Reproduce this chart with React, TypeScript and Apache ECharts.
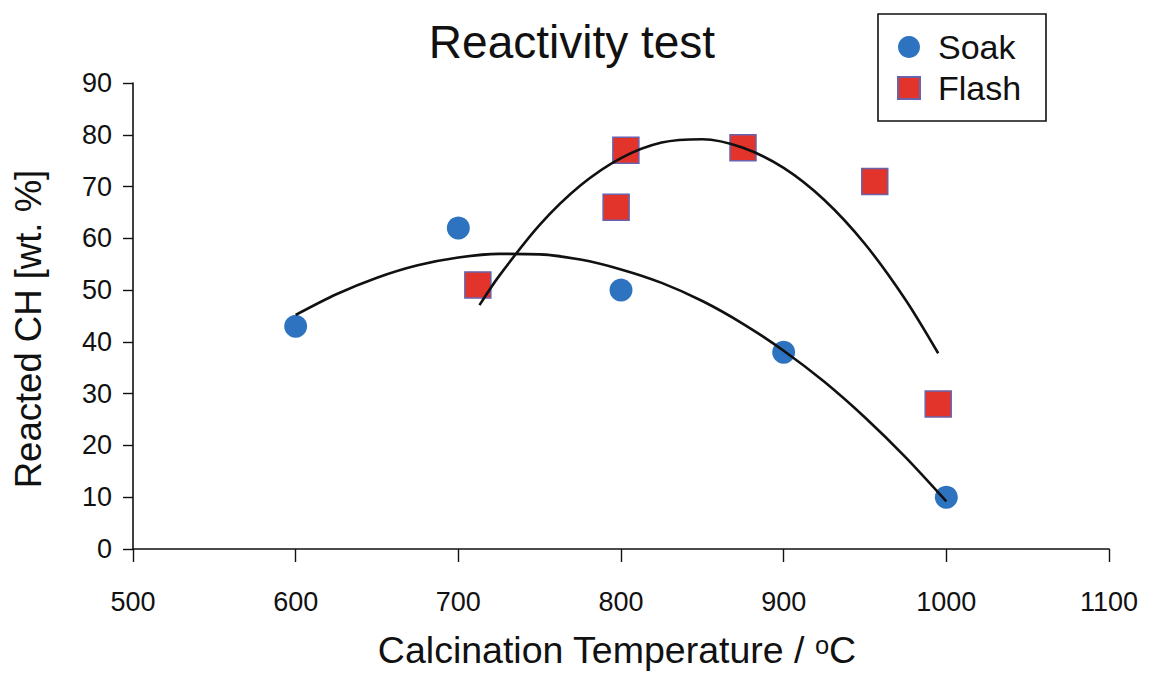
import React, { useEffect, useRef } from "react";
import * as echarts from "echarts";

const soakTemps = [600, 700, 800, 900, 1000];
const soakValues = [43, 62, 50, 38, 10];
const flashTemps = [712, 797, 803, 875, 956, 995];
const flashValues = [51, 66, 77, 77.5, 71, 28];

const soakTrendTemps = [600, 625, 650, 675, 700, 725, 750, 775, 800, 825, 850, 875, 900, 925, 950, 975, 1000];
const soakTrendValues = [45.2, 49.2, 52.4, 54.8, 56.3, 57.0, 56.9, 55.9, 54.0, 51.4, 47.9, 43.5, 38.3, 32.3, 25.4, 17.7, 9.2];
const flashTrendTemps = [713, 725, 750, 775, 800, 825, 850, 875, 900, 925, 950, 975, 995];
const flashTrendValues = [47.1, 52.7, 62.6, 70.2, 75.5, 78.5, 79.15, 77.5, 73.6, 67.4, 58.9, 48.1, 37.8];

const xTicks = [500, 600, 700, 800, 900, 1000, 1100];
const yTicks = [0, 10, 20, 30, 40, 50, 60, 70, 80, 90];

const TITLE = "Reactivity test";
const X_NAME = "Calcination Temperature / \u1d52C";
const Y_NAME = "Reacted CH [wt. %]";
const FONT = "'Liberation Sans', Arial, Helvetica, sans-serif";

const pairs = (xs: number[], ys: number[]) => xs.map((x, i) => [x, ys[i]]);

export default function App() {
  const ref = useRef<HTMLDivElement>(null);
  useEffect(() => {
    if (!ref.current) return;
    const chart = echarts.init(ref.current, null, { renderer: "svg" });
    const axisLine = { show: true, lineStyle: { color: "#111", width: 1.6 } };
    chart.setOption({
      animation: false,
      backgroundColor: "#fff",
      textStyle: { fontFamily: FONT },
      grid: { left: 133, right: 43, top: 83, bottom: 144 },
      xAxis: {
        type: "value",
        min: xTicks[0],
        max: xTicks[xTicks.length - 1],
        interval: 100,
        axisLine,
        axisTick: { show: true, length: 13, lineStyle: { color: "#111", width: 1.4 } },
        splitLine: { show: false },
        axisLabel: {
          fontSize: 27,
          color: "#111",
          margin: 39,
          fontFamily: FONT,
          formatter: (v: number) => String(v),
        },
      },
      yAxis: {
        type: "value",
        min: yTicks[0],
        max: yTicks[yTicks.length - 1],
        interval: 10,
        axisLine,
        axisTick: { show: true, length: 10, lineStyle: { color: "#111", width: 1.4 } },
        splitLine: { show: false },
        axisLabel: { fontSize: 27, color: "#111", margin: 21, fontFamily: FONT, formatter: (v: number) => String(v) },
      },
      legend: {
        left: 897,
        top: 30,
        orient: "vertical",
        itemWidth: 22,
        itemHeight: 22,
        itemGap: 7,
        padding: 0,
        data: [
          { name: "Soak", icon: "circle" },
          { name: "Flash", icon: "rect" },
        ],
        textStyle: { fontSize: 34, color: "#111", fontFamily: FONT, padding: [0, 0, 0, 13], lineHeight: 34 },
      },
      graphic: [
        {
          type: "rect",
          shape: { x: 878, y: 14, width: 168, height: 107 },
          style: { fill: "none", stroke: "#111", lineWidth: 1.6 },
          z: 100,
        },
        {
          type: "text",
          x: 572,
          y: 42,
          style: { text: TITLE, fill: "#111", font: `46px ${FONT}`, align: "center", verticalAlign: "middle" },
        },
        {
          type: "text",
          x: 617,
          y: 650,
          style: { text: X_NAME, fill: "#111", font: `37.5px ${FONT}`, align: "center", verticalAlign: "middle" },
        },
        {
          type: "text",
          x: 28,
          y: 329,
          rotation: Math.PI / 2,
          style: { text: Y_NAME, fill: "#111", font: `36.5px ${FONT}`, align: "center", verticalAlign: "middle" },
        },
      ],
      series: [
        {
          name: "Soak",
          type: "scatter",
          symbol: "circle",
          symbolSize: 23,
          itemStyle: { color: "#2e73bf", opacity: 1 },
          data: pairs(soakTemps, soakValues),
          z: 2,
        },
        {
          name: "Flash",
          type: "scatter",
          symbol: "rect",
          symbolSize: 26,
          itemStyle: { color: "#e2342a", borderColor: "#6a62ab", borderWidth: 1.5, opacity: 1 },
          data: pairs(flashTemps, flashValues),
          z: 2,
        },
        {
          name: "Soak trend",
          type: "line",
          smooth: 0.3,
          showSymbol: false,
          silent: true,
          lineStyle: { color: "#111", width: 2.6 },
          data: pairs(soakTrendTemps, soakTrendValues),
          z: 3,
        },
        {
          name: "Flash trend",
          type: "line",
          smooth: 0.3,
          showSymbol: false,
          silent: true,
          lineStyle: { color: "#111", width: 2.6 },
          data: pairs(flashTrendTemps, flashTrendValues),
          z: 3,
        },
      ],
    });
    return () => chart.dispose();
  }, []);
  return (
    <div
      ref={ref}
      style={{ position: "fixed", left: 0, top: 0, width: 1152, height: 693, background: "#fff" }}
    />
  );
}
